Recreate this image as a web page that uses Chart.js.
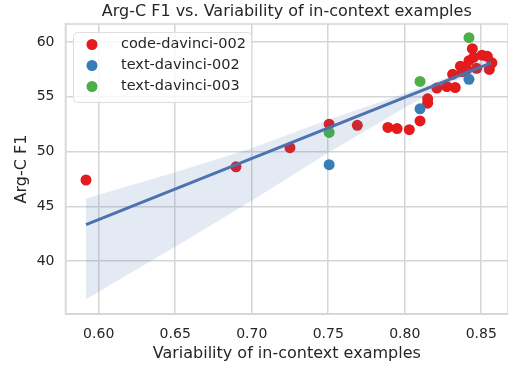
<!DOCTYPE html>
<html>
<head>
<meta charset="utf-8">
<script src="https://cdn.jsdelivr.net/npm/chart.js@4"></script>
<style>
  html, body { margin: 0; padding: 0; background: #fff; }
  #wrap { width: 508px; height: 367px; }
</style>
</head>
<body>
<div id="wrap"><canvas id="chart"></canvas></div>
<script>
// data
const redX = [0.5917, 0.6897, 0.725, 0.7506, 0.769, 0.789, 0.795, 0.803, 0.810, 0.815, 0.815, 0.821, 0.8275, 0.833,
              0.8313, 0.8364, 0.8375, 0.8405, 0.842, 0.8442, 0.845, 0.847, 0.8505, 0.854, 0.8553, 0.857];
const redY = [47.4, 48.6, 50.35, 52.5, 52.4, 52.2, 52.1, 52.0, 52.8, 54.42, 54.82, 55.8, 55.94, 55.85,
              57.05, 57.8, 57.3, 57.5, 58.3, 59.4, 58.6, 57.6, 58.8, 58.7, 57.5, 58.1];
const blueX = [0.7506, 0.810, 0.842];
const blueY = [48.8, 53.9, 56.6];
const greenX = [0.7506, 0.810, 0.842];
const greenY = [51.75, 56.4, 60.4];

// regression line and confidence band
const fitX = [0.5917, 0.8565];
const fitY = [43.33, 58.1];
const bandX = [0.5917, 0.65, 0.70, 0.75, 0.80, 0.83, 0.8565];
const bandUpper = [45.7, 48.1, 50.3, 52.9, 55.3, 56.9, 58.7];
const bandLower = [36.5, 41.3, 45.5, 49.9, 54.0, 56.3, 57.5];

const xTicks = [0.60, 0.65, 0.70, 0.75, 0.80, 0.85];
const yTicks = [40, 45, 50, 55, 60];

const legendLabels = ["code-davinci-002", "text-davinci-002", "text-davinci-003"];
const colors = ["#e41a1c", "#377eb8", "#4daf4a"];

const FONT = "'DejaVu Sans', sans-serif";
const TEXT = "#262626";
const GRID = "#d5d5d5";

const pts = (xs, ys) => xs.map((x, i) => ({ x: x, y: ys[i] }));

// border, title and legend drawn inside the plot
const extras = {
    id: "extras",
    beforeDatasetsDraw(chart) {
        const { ctx, chartArea: a } = chart;
        ctx.save();
        ctx.strokeStyle = GRID;
        ctx.lineWidth = 1.5;
        ctx.strokeRect(a.left, a.top, a.right - a.left, a.bottom - a.top);
        ctx.restore();
    },
    afterDraw(chart) {
        const { ctx, chartArea: a } = chart;
        ctx.save();
        ctx.fillStyle = TEXT;
        ctx.font = "16px " + FONT;
        ctx.textAlign = "center";
        ctx.textBaseline = "middle";
        ctx.fillText("Arg-C F1 vs. Variability of in-context examples", (a.left + a.right) / 2, 12);

        // legend
        const bx = 73.5, by = 32.5, bw = 178, bh = 70, r = 4;
        ctx.beginPath();
        ctx.moveTo(bx + r, by);
        ctx.arcTo(bx + bw, by, bx + bw, by + bh, r);
        ctx.arcTo(bx + bw, by + bh, bx, by + bh, r);
        ctx.arcTo(bx, by + bh, bx, by, r);
        ctx.arcTo(bx, by, bx + bw, by, r);
        ctx.closePath();
        ctx.fillStyle = "rgba(255,255,255,0.8)";
        ctx.fill();
        ctx.strokeStyle = "#dddddd";
        ctx.lineWidth = 1;
        ctx.stroke();

        ctx.font = "14.5px " + FONT;
        ctx.textAlign = "left";
        legendLabels.forEach((lab, i) => {
            const y = 44.5 + i * 21;
            ctx.beginPath();
            ctx.arc(92, y, 5.5, 0, Math.PI * 2);
            ctx.fillStyle = colors[i];
            ctx.fill();
            ctx.fillStyle = TEXT;
            ctx.fillText(lab, 121, y);
        });
        ctx.restore();
    }
};

new Chart(document.getElementById("chart"), {
    type: "scatter",
    data: {
        datasets: [
            {
                type: "line", data: pts(fitX, fitY), borderColor: "#4c72b0", borderWidth: 3,
                pointRadius: 0, fill: false, order: 0
            },
            {
                type: "line", data: pts(bandX, bandUpper), borderWidth: 0, borderColor: "rgba(0,0,0,0)",
                pointRadius: 0, fill: "+1", backgroundColor: "rgba(76,114,176,0.15)", order: 1
            },
            {
                type: "line", data: pts(bandX, bandLower), borderWidth: 0, borderColor: "rgba(0,0,0,0)",
                pointRadius: 0, fill: false, order: 2
            },
            { data: pts(greenX, greenY), backgroundColor: colors[2], pointRadius: 5.5, borderWidth: 0, order: 3 },
            { data: pts(blueX, blueY), backgroundColor: colors[1], pointRadius: 5.5, borderWidth: 0, order: 4 },
            { data: pts(redX, redY), backgroundColor: colors[0], pointRadius: 5.5, borderWidth: 0, order: 5 }
        ]
    },
    options: {
        responsive: true,
        maintainAspectRatio: false,
        animation: false,
        layout: { autoPadding: false, padding: { top: 24, right: 0, left: 0, bottom: 0 } },
        plugins: { legend: { display: false }, tooltip: { enabled: false }, title: { display: false } },
        scales: {
            x: {
                type: "linear", min: 0.5783, max: 0.8675,
                afterFit: s => { s.height = 53; s.paddingLeft = 0; s.paddingRight = 0; },
                afterBuildTicks: s => { s.ticks = xTicks.map(v => ({ value: v })); },
                grid: { color: GRID, lineWidth: 1.5, drawTicks: false },
                border: { color: GRID, width: 1.5 },
                ticks: { color: TEXT, font: { family: FONT, size: 14 }, padding: 12,
                         callback: v => v.toFixed(2), maxRotation: 0 },
                title: { display: true, text: "Variability of in-context examples", color: TEXT,
                         font: { family: FONT, size: 16 }, padding: { bottom: 4 } }
            },
            y: {
                type: "linear", min: 35.16, max: 61.65,
                afterFit: s => { s.width = 65.5; s.paddingTop = 0; s.paddingBottom = 0; },
                afterBuildTicks: s => { s.ticks = yTicks.map(v => ({ value: v })); },
                grid: { color: GRID, lineWidth: 1.5, drawTicks: false },
                border: { color: GRID, width: 1.5 },
                ticks: { color: TEXT, font: { family: FONT, size: 14 }, padding: 11 },
                title: { display: true, text: "Arg-C F1", color: TEXT,
                         font: { family: FONT, size: 16 }, padding: { top: 12 } }
            }
        }
    },
    plugins: [extras]
});
</script>
</body>
</html>
